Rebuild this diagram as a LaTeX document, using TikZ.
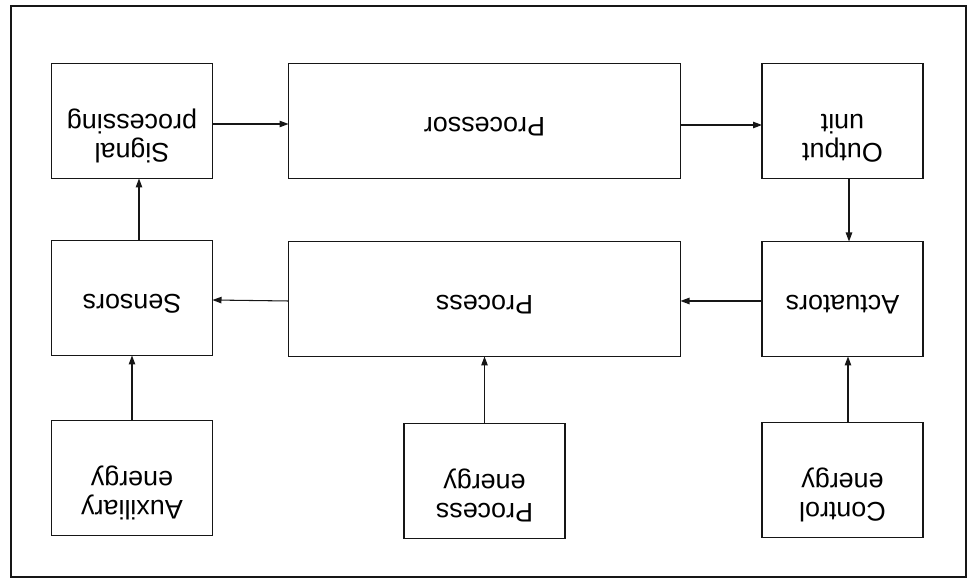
\documentclass[tikz,border=0pt]{standalone}
\usepackage{fontspec}
\setmainfont{Liberation Sans}
\usepackage{graphicx}
\usetikzlibrary{positioning,arrows.meta,calc}
\definecolor{ink}{HTML}{161616}
\newcommand{\flip}[2][0pt]{\rotatebox[origin=c]{180}{\begin{tabular}{@{}c@{}}#2\rule[-#1]{0pt}{0pt}\end{tabular}}}
\tikzset{
  block/.style={rectangle, draw=ink, line width=0.8pt, minimum width=3.22cm,
                minimum height=2.3cm, inner sep=0pt, outer sep=0pt, align=center,
                font=\fontsize{15.3}{17}\selectfont},
  wideblock/.style={block, minimum width=7.84cm},
  sig/.style={-{Triangle[length=1.8mm,width=1.3mm]}, line width=0.6pt, draw=ink},
  frame/.style={draw=ink, line width=0.9pt}
}

\begin{document}
\begin{tikzpicture}
\useasboundingbox (0,0) rectangle (19.42,-11.56);
\draw[frame] (0.22,-0.12) rectangle (19.32,-11.54);
% top row
\node[block] (sigp) at (2.64,-2.42) {\flip[21pt]{Signal\\processing}};
\node[wideblock, right=1.52cm of sigp] (proc) {\flip[7.5pt]{Processor}};
\node[block, right=1.63cm of proc] (outu) {\flip[21pt]{Output\\unit}};
% middle row
\node[block, below=1.24cm of sigp] (sens) {\flip[7.5pt]{Sensors}};
\node[wideblock, below=1.26cm of proc] (procs) {\flip[7.5pt]{Process}};
\node[block, below=1.26cm of outu] (act) {\flip[7.5pt]{Actuators}};
% energy inputs
\node[block, below=1.3cm of sens] (auxe) {\flip[21pt]{Auxiliary\\energy}};
\node[block, below=1.34cm of procs] (proce) {\flip[21pt]{Process\\energy}};
\node[block, below=1.32cm of act] (ctrle) {\flip[21pt]{Control\\energy}};
% signal path
\draw[sig] ([yshift=-0.6mm]sigp.east) -- ([yshift=-0.6mm]proc.west);
\draw[sig] ([yshift=-0.8mm]proc.east) -- ([yshift=-0.8mm]outu.west);
\draw[sig] ([xshift=1.3mm]outu.south) -- ([xshift=1.3mm]act.north);
\draw[sig] ([yshift=-0.4mm]act.west) -- ([yshift=-0.4mm]procs.east);
\draw[sig] ([yshift=-0.4mm]procs.west) -- ([yshift=-0.4mm]sens.east);
\draw[sig] ([xshift=1.4mm]sens.north) -- ([xshift=1.4mm]sigp.south);
% energy
\draw[sig] (auxe) -- (sens);
\draw[sig] (proce) -- (procs);
\draw[sig] ([xshift=1.1mm]ctrle.north) -- ([xshift=1.1mm]act.south);
\end{tikzpicture}
\end{document}
